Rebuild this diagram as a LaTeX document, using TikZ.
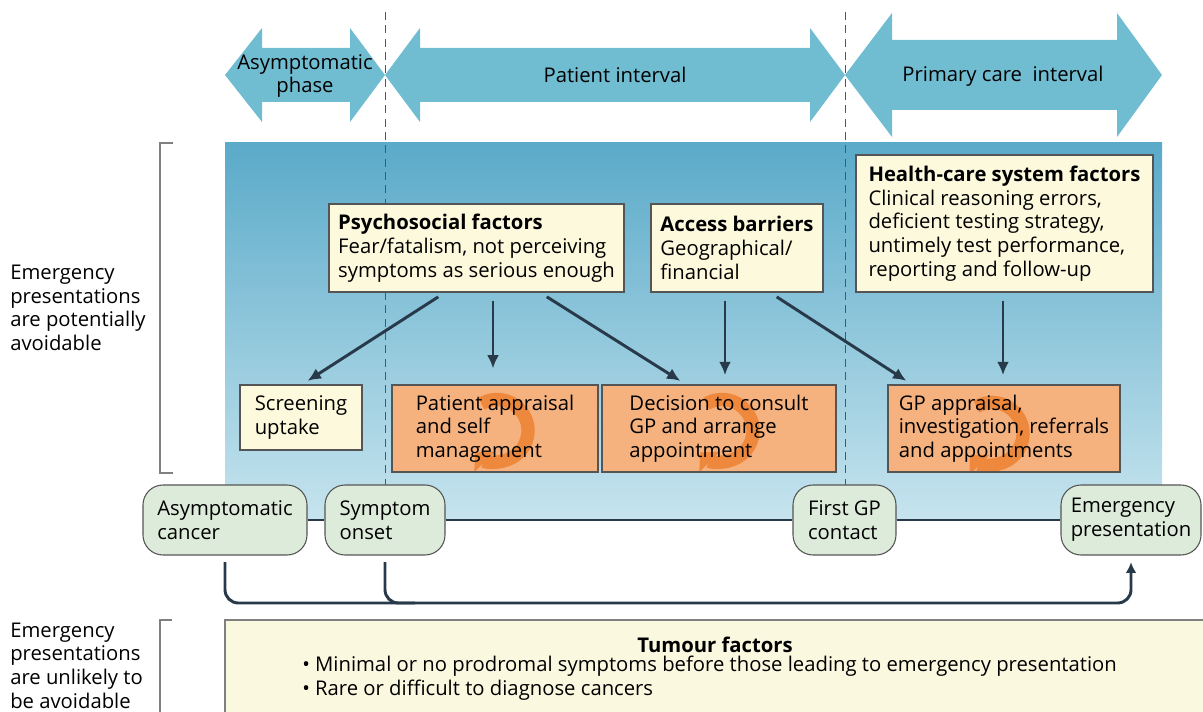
\documentclass[tikz,border=0pt]{standalone}
\usepackage{fontspec}
\setmainfont{Open Sans}
\usetikzlibrary{arrows.meta,calc}

\definecolor{arrowblue}{RGB}{112,189,210}
\definecolor{bandtop}{RGB}{90,170,201}
\definecolor{bandbot}{RGB}{198,228,238}
\definecolor{factorfill}{RGB}{253,249,221}
\definecolor{stepfill}{RGB}{246,178,126}
\definecolor{spinorange}{RGB}{238,136,60}
\definecolor{eventfill}{RGB}{221,235,218}
\definecolor{tumourfill}{RGB}{251,248,224}
\definecolor{linknavy}{RGB}{40,58,74}
\definecolor{edgegray}{RGB}{85,85,85}

\tikzset{
	factor/.style={draw=edgegray, fill=factorfill, align=left, inner sep=0pt, line width=0.8pt},
	stepbox/.style={draw=edgegray, fill=stepfill, align=left, inner sep=0pt, line width=0.8pt},
	event/.style={draw=edgegray, fill=eventfill, rounded corners=15pt, align=left, inner sep=0pt, line width=0.8pt},
	link/.style={draw=linknavy, line width=2.2pt, -{Latex[length=10pt,width=9pt]}, shorten <=6pt, shorten >=5pt},
	timeline/.style={draw=linknavy, line width=2.2pt},
	% path picture drops the flipped y axis, so angles are read upright here
	spin/.style={path picture={\draw[spinorange, line width=10pt, -{Triangle[length=10pt,width=21pt]}] ($(path picture bounding box.center)+(#1)$) ++(120:31) arc[start angle=120, end angle=-135, radius=31];}},
}

\begin{document}
\begin{tikzpicture}[x=0.75pt,y=0.75pt,yscale=-1,xscale=1,font=\fontsize{15.2}{17.8}\selectfont]
	\useasboundingbox (0,0) rectangle (1203,712);
	
	% shaded band behind the pathway
	\shade[top color=bandtop, bottom color=bandbot] (225,143) rectangle (1162,520);
	
	% interval arrows
	\fill[arrowblue] (225,75) -- (262,28) -- (262,48) -- (350,48) -- (350,28) -- (385,75) -- (350,122) -- (350,102) -- (262,102) -- (262,122) -- cycle;
	\fill[arrowblue] (385,75) -- (420,28) -- (420,48) -- (810,48) -- (810,28) -- (845,75) -- (810,122) -- (810,102) -- (420,102) -- (420,122) -- cycle;
	\fill[arrowblue] (845,75) -- (892,13) -- (892,40) -- (1117,40) -- (1117,13) -- (1162,75) -- (1117,137) -- (1117,110) -- (892,110) -- (892,137) -- cycle;
	\node[align=center] (asymph) at (305,76) {Asymptomatic\\phase};
	\node (patint) at (615,75) {Patient interval};
	\node (pcint) at (1003,76) {Primary care\ \ interval};
	
	\draw[edgegray, dash pattern=on 6pt off 4pt, line width=0.6pt] (385,12) -- (385,485);
	\draw[edgegray, dash pattern=on 6pt off 4pt, line width=0.6pt] (845,12) -- (845,485);
	
	% brackets and side labels
	\draw[gray, line width=0.8pt] (173,143) -- (160,143) -- (160,473) -- (173,473);
	\draw[gray, line width=0.8pt] (172,620) -- (160,620) -- (160,715);
	\node[anchor=west, align=left, inner sep=0pt] (avoid) at (10,308) {Emergency\\presentations\\are potentially\\avoidable};
	\node[anchor=west, align=left, inner sep=0pt] (unavoid) at (10,665.5) {Emergency\\presentations\\are unlikely to\\be avoidable};
	
	% factors
	\node[factor, minimum width=221.25pt, minimum height=66pt] (psy) at (476.5,248) {\textbf{Psychosocial factors}\\Fear/fatalism, not perceiving\\symptoms as serious enough};
	\node[factor, minimum width=129pt, minimum height=66pt] (acc) at (737,248) {\textbf{Access barriers}\\Geographical/\\financial};
	\node[factor, minimum width=222.75pt, minimum height=102.75pt] (hcs) at (1004.5,223.5) {\textbf{Health-care system factors}\\Clinical reasoning errors,\\deficient testing strategy,\\untimely test performance,\\reporting and follow-up};
	\node[factor, minimum width=91.5pt, minimum height=48.75pt] (scr) at (301,417.5) {Screening\\uptake};
	
	% steps
	\node[stepbox, spin={2,-2}, minimum width=154.5pt, minimum height=65.25pt] (pat) at (495,428.5) {Patient appraisal\\and self\\management};
	\node[stepbox, spin={3,-2}, minimum width=175.5pt, minimum height=65.25pt] (dec) at (719,428.5) {Decision to consult\\GP and arrange\\appointment};
	\node[stepbox, spin={-12,-5}, minimum width=174pt, minimum height=65.25pt] (gpa) at (1004,428.5) {GP appraisal,\\investigation, referrals\\and appointments};
	
	\draw[link] ($(psy.south)+(-31.5,0)$) -- ($(scr.north)+(1,0)$);
	\draw[link, shorten >=12pt] ($(psy.south)+(16.5,0)$) -- ($(pat.north)+(-2,0)$);
	\draw[link] ($(psy.south)+(63.5,0)$) -- ($(dec.north)+(-33,0)$);
	\draw[link, shorten >=7pt] ($(acc.south)+(-12,0)$) -- ($(dec.north)+(6,0)$);
	\draw[link] ($(acc.south)+(33,0)$) -- ($(gpa.north)+(-92,0)$);
	\draw[link, shorten >=7pt] ($(hcs.south)+(-1.5,0)$) -- ($(gpa.north)+(-1,0)$);
	
	% timeline
	\node[event, minimum width=123pt, minimum height=52.5pt] (asym) at (225,520) {Asymptomatic\\cancer};
	\node[event, minimum width=90pt, minimum height=52.5pt] (sym) at (385,520) {Symptom\\onset};
	\node[event, minimum width=77.25pt, minimum height=52.5pt] (gpc) at (844.5,520) {First GP\\contact};
	\node[event, minimum width=105pt, minimum height=52.5pt] (emer) at (1131,520) {Emergency\\presentation};
	\draw[timeline] (asym) -- (sym) -- (gpc) -- (emer);
	
	\coordinate (low) at (0,603);
	\draw[timeline, rounded corners=10pt, shorten <=5pt, shorten >=5pt, -{Latex[length=8pt,width=8pt]}] (asym.south) -- (asym.south |- low) -| (emer.south);
	\draw[timeline, rounded corners=10pt, shorten <=5pt] (sym.south) |- ($(sym.south |- low)+(30,0)$);
	
	% tumour factors
	\draw[gray, fill=tumourfill, line width=0.8pt] (225,620) rectangle (1215,725);
	\node[font=\fontsize{15.2}{17.8}\selectfont\bfseries] (tumhead) at (715,645) {Tumour factors};
	\node[anchor=west, align=left, inner sep=0pt] (tumlist) at (302,678.5) {\textbullet\ Minimal or no prodromal symptoms before those leading to emergency presentation\\\textbullet\ Rare or difficult to diagnose cancers};
\end{tikzpicture}
\end{document}
